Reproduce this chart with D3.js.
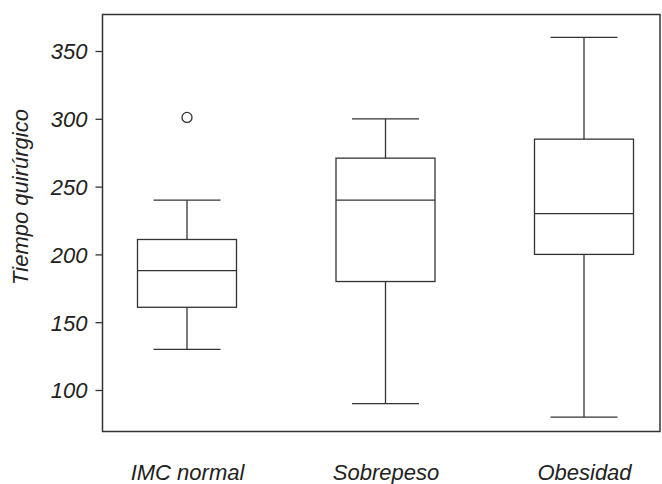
<!DOCTYPE html>
<html><head><meta charset="utf-8">
<script src="https://cdn.jsdelivr.net/npm/d3@7"></script>
<style>
html,body{margin:0;padding:0;background:#fff;}
text{font-family:"Liberation Sans",Arial,sans-serif;font-style:italic;fill:#222;}
</style></head>
<body><svg id="c" width="662" height="484"></svg>
<script>
const categories = ["IMC normal", "Sobrepeso", "Obesidad"];
const whiskerLow = [130, 90, 80];
const q1 = [161, 180, 200];
const median = [188, 240, 230];
const q3 = [211, 271, 285];
const whiskerHigh = [240, 300, 360];
const outliers = [[301], [], []];
const yTicks = [100, 150, 200, 250, 300, 350];
const yLabel = "Tiempo quirúrgico";

const svg = d3.select("#c");
const frame = {left: 102.5, top: 14.5, right: 660, bottom: 431.5};
const y = d3.scaleLinear().domain([100, 350]).range([390, 51]);
const x = d3.scalePoint().domain(categories).range([187, 584]);
const boxW = 99, capW = 67;
const col = "#333";

// frame
svg.append("rect").attr("x", frame.left).attr("y", frame.top)
  .attr("width", frame.right - frame.left).attr("height", frame.bottom - frame.top)
  .attr("fill", "none").attr("stroke", col).attr("stroke-width", 1.5);

// y axis
const yAxis = d3.axisLeft(y).tickValues(yTicks).tickSize(7).tickPadding(8);
const gy = svg.append("g").attr("transform", `translate(${frame.left},0)`).call(yAxis);
gy.select(".domain").remove();
gy.selectAll("line").attr("stroke", col).attr("stroke-width", 1.3);
gy.selectAll("text").attr("font-size", 22).attr("font-family", "Liberation Sans, Arial, sans-serif")
  .attr("font-style", "italic").attr("fill", "#222").attr("dy", "0.36em");

// x labels
const xAxis = d3.axisBottom(x).tickSize(0).tickPadding(0);
const gx = svg.append("g").attr("transform", `translate(0,480)`).call(xAxis);
gx.select(".domain").remove();
gx.selectAll("text").attr("font-size", 22).attr("font-family", "Liberation Sans, Arial, sans-serif")
  .attr("font-style", "italic").attr("fill", "#222").attr("dy", 0).attr("y", 0);

// y label
svg.append("text").attr("transform", "translate(28,197) rotate(-90)")
  .attr("text-anchor", "middle").attr("font-size", 22).text(yLabel);

// boxes
categories.forEach((c, i) => {
  const cx = x(c);
  const g = svg.append("g").attr("stroke", col).attr("stroke-width", 1.3).attr("fill", "none");
  // whiskers
  g.append("line").attr("x1", cx).attr("x2", cx).attr("y1", y(whiskerHigh[i])).attr("y2", y(q3[i]));
  g.append("line").attr("x1", cx).attr("x2", cx).attr("y1", y(q1[i])).attr("y2", y(whiskerLow[i]));
  g.append("line").attr("x1", cx - capW/2).attr("x2", cx + capW/2).attr("y1", y(whiskerHigh[i])).attr("y2", y(whiskerHigh[i]));
  g.append("line").attr("x1", cx - capW/2).attr("x2", cx + capW/2).attr("y1", y(whiskerLow[i])).attr("y2", y(whiskerLow[i]));
  // box
  g.append("rect").attr("x", cx - boxW/2).attr("width", boxW)
    .attr("y", y(q3[i])).attr("height", y(q1[i]) - y(q3[i])).attr("fill", "#fff");
  g.append("line").attr("x1", cx - boxW/2).attr("x2", cx + boxW/2).attr("y1", y(median[i])).attr("y2", y(median[i]));
  outliers[i].forEach(o => {
    g.append("circle").attr("cx", cx).attr("cy", y(o)).attr("r", 5);
  });
});
</script></body></html>
